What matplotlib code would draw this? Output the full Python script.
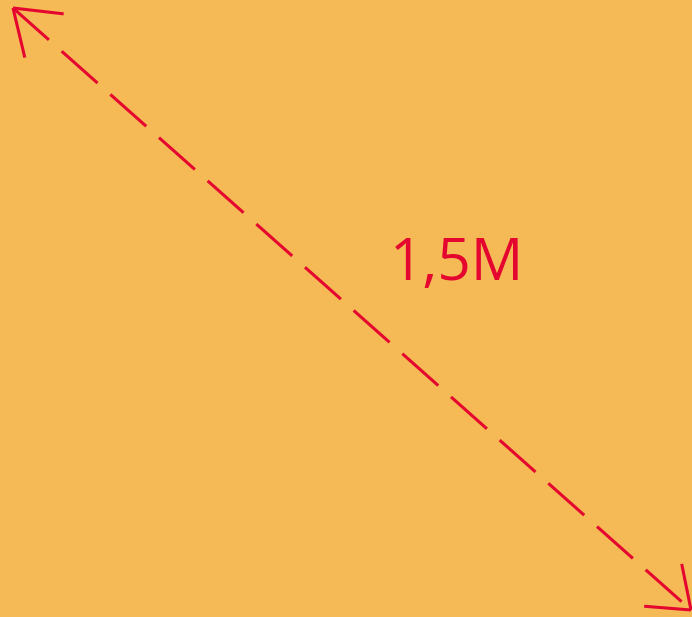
import numpy as np
import matplotlib
matplotlib.use("Agg")
import matplotlib.pyplot as plt

# annotation: a distance arrow with its label
label = "1,5M"
start = (13, 8)      # tip of the upper-left head
end = (691, 610)     # tip of the lower-right head
label_pos = (457, 265)

bg = "#F5BA55"
red = "#E5062F"

fig = plt.figure(figsize=(6.92, 6.17), dpi=100, facecolor=bg)
ax = fig.add_axes([0, 0, 1, 1])
ax.set_facecolor(bg)
ax.set_xlim(0, 692)
ax.set_ylim(617, 0)
ax.axis("off")

lw = 2.2
# dashed shaft
ax.plot([start[0], end[0]], [start[1], end[1]], color=red, lw=lw,
        linestyle=(0, (15.7, 5.6)), solid_capstyle="butt", dash_capstyle="butt")

# open arrow heads
def head(tip, other, length=51, half_angle=35):
    ang = np.arctan2(other[1] - tip[1], other[0] - tip[0])
    for s in (-1, 1):
        a = ang + s * np.radians(half_angle)
        ax.plot([tip[0], tip[0] + length * np.cos(a)],
                [tip[1], tip[1] + length * np.sin(a)],
                color=red, lw=lw, solid_capstyle="butt")

head(start, end)
head(end, start, length=47, half_angle=37)

ax.text(label_pos[0], label_pos[1], label, color=red, fontsize=42,
        family="Open Sans", ha="center", va="center")

fig.savefig("out.png", dpi=100, facecolor=bg)
